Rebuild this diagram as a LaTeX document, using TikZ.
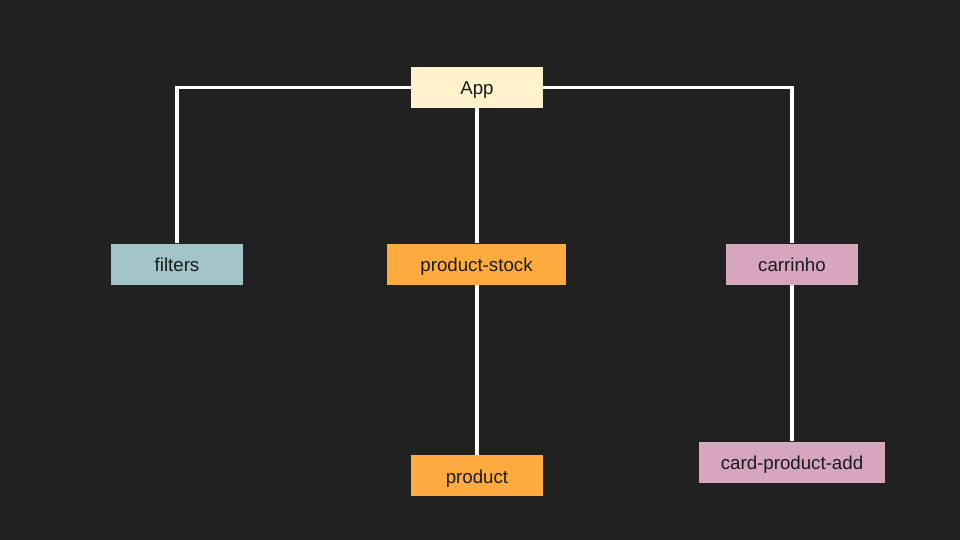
\documentclass[tikz,border=0pt]{standalone}
\usepackage{fontspec}
\setmainfont{Liberation Sans}
\definecolor{bg}{HTML}{212121}
\definecolor{cApp}{HTML}{FFF2CC}
\definecolor{cFil}{HTML}{A2C4C9}
\definecolor{cOr}{HTML}{FFAB40}
\definecolor{cPk}{HTML}{D5A6BD}
\definecolor{txt}{HTML}{1A1A1A}
\begin{document}
\begin{tikzpicture}[x=1pt,y=-1pt,
  box/.style={rectangle,inner sep=0pt,minimum height=41pt,text height=15pt,text depth=0pt,text=txt,font=\fontsize{18.7}{22}\selectfont},
  link/.style={white,line width=3.8pt}]
\fill[bg] (0,0) rectangle (960,540);
\useasboundingbox (0,0) rectangle (960,540);
\node[box,fill=cApp,minimum width=132pt] (app) at (477,87.5) {App};
\node[box,fill=cFil,minimum width=132pt] (fil) at (177,264) {filters};
\node[box,fill=cOr,minimum width=179pt] (ps) at (476.5,264) {product-stock};
\node[box,fill=cPk,minimum width=132pt] (car) at (792,264) {carrinho};
\node[box,fill=cOr,minimum width=132pt] (prod) at (477,475.5) {product};
\node[box,fill=cPk,minimum width=186pt] (cpa) at (792,462) {card-product-add};
\draw[link] (app.west) -| (fil.north);
\draw[link] (app.east) -| (car.north);
\draw[link] (app.south) -- (app.south |- ps.north);
\draw[link] (ps.south -| prod.north) -- (prod.north);
\draw[link] (car.south) -- (cpa.north);
\end{tikzpicture}
\end{document}
